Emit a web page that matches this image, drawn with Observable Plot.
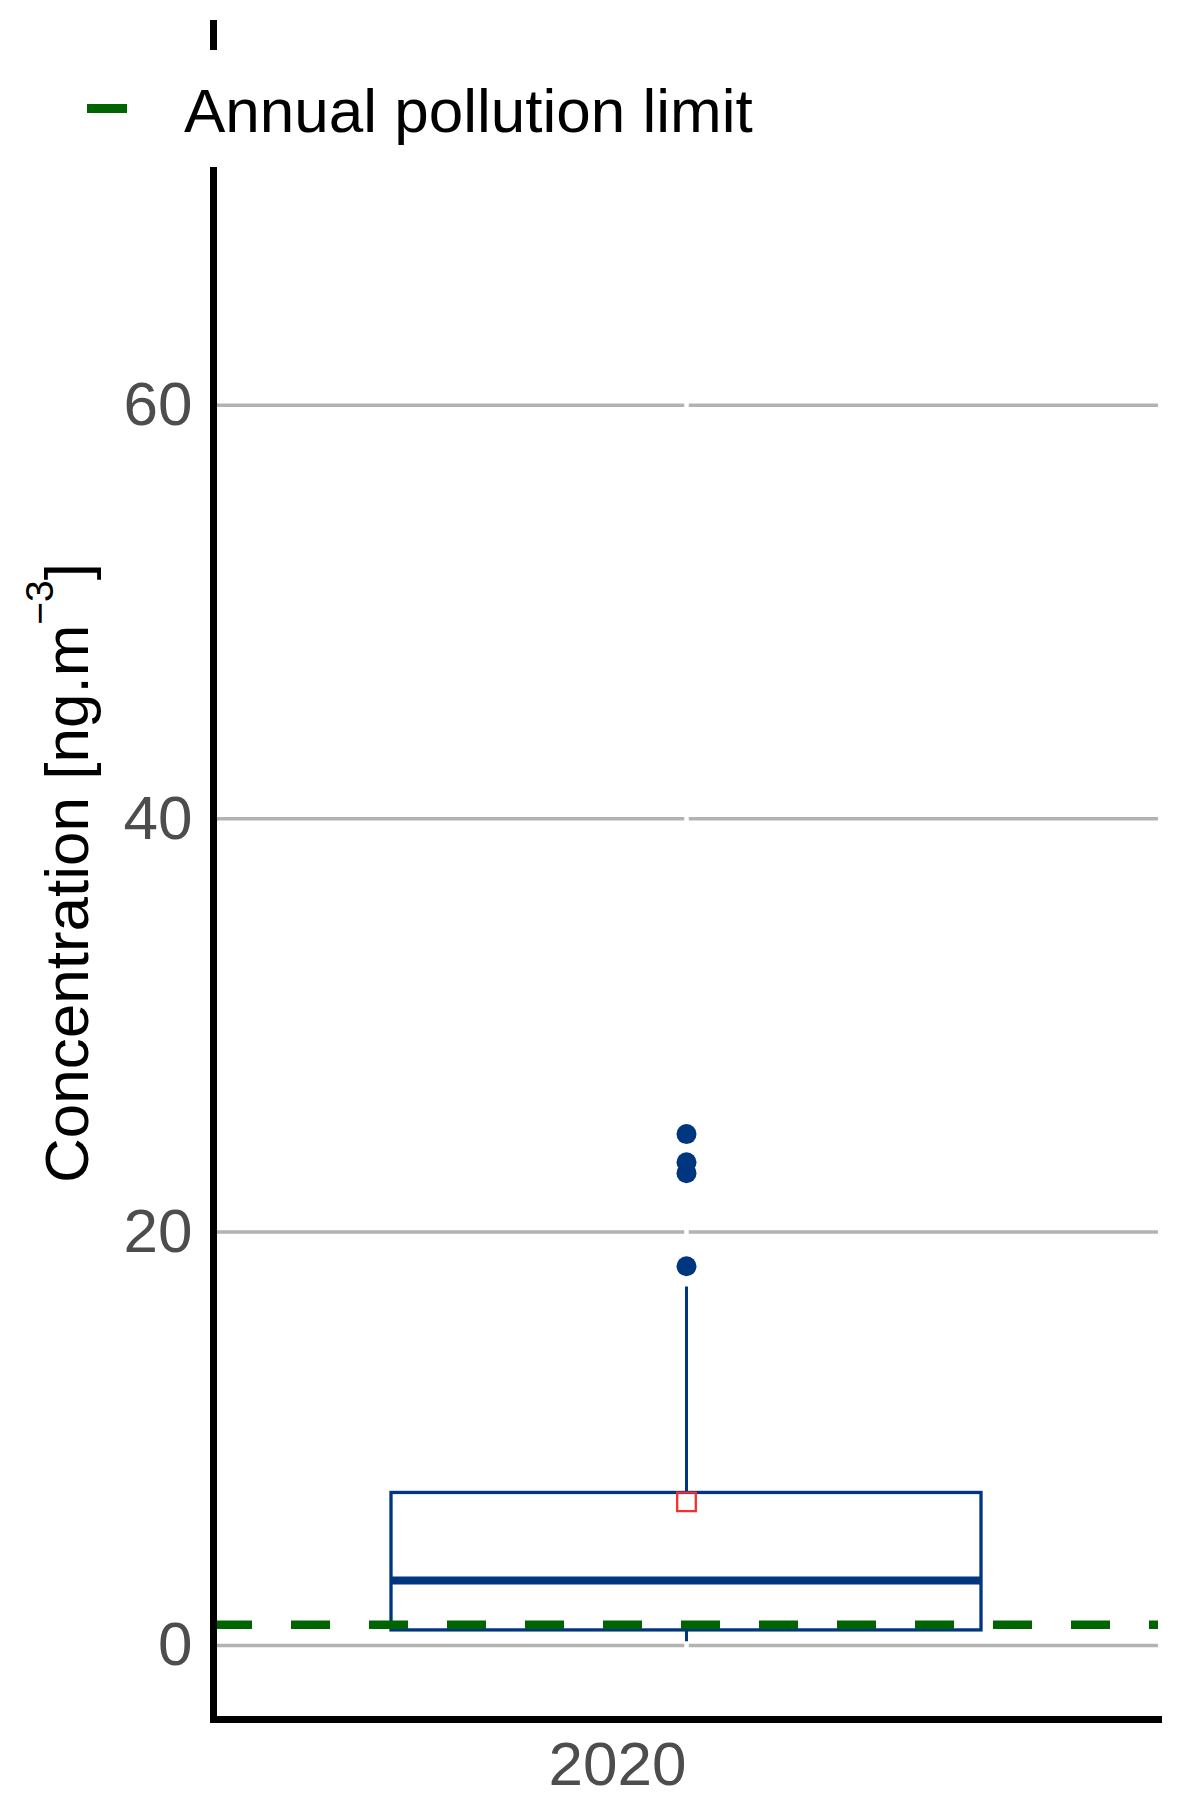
<!DOCTYPE html>
<html>
<head>
<meta charset="utf-8">
<script src="https://cdn.jsdelivr.net/npm/d3@7"></script>
<script src="https://cdn.jsdelivr.net/npm/@observablehq/plot@0.6"></script>
<style>
  html, body { margin: 0; padding: 0; background: white; }
  #wrap { position: relative; width: 1196px; height: 1814px; font-family: "Liberation Sans", Arial, sans-serif; }
  #legend { position: absolute; left: 0; top: 0; }
</style>
</head>
<body>
<div id="wrap"></div>
<script>
// ---- data ----
const years = ["2020"];
const q1 = [0.73];
const medians = [3.15];
const q3 = [7.38];
const lowerWhisker = [0.18];
const upperWhisker = [17.34];
const means = [6.95];
const outlierYears = ["2020", "2020", "2020", "2020"];
const outlierValues = [18.35, 22.85, 23.38, 24.74];
const limitValues = [1];
const yTicks = [0, 20, 40, 60];
const yDomain = [-3.58, 78.47];
const legendLabels = ["Annual pollution limit"];

const blue = "#003580";
const green = "#006400";
const red = "#f03030";
const font = "'Liberation Sans', Arial, sans-serif";

const boxData = years.map((year, i) => ({
  year, q1: q1[i], median: medians[i], q3: q3[i],
  lo: lowerWhisker[i], hi: upperWhisker[i], mean: means[i]
}));
const outliers = outlierValues.map((value, i) => ({ year: outlierYears[i], value }));

const chart = Plot.plot({
  width: 1196,
  height: 1814,
  marginLeft: 213,
  marginRight: 38,
  marginTop: 23,
  marginBottom: 95,
  style: { fontFamily: font, background: "white" },
  x: { type: "band", domain: years, paddingInner: 0, paddingOuter: 0.3, align: 0.5 },
  y: { domain: yDomain },
  marks: [
    Plot.gridY(yTicks, { stroke: "#b3b3b3", strokeOpacity: 1, strokeWidth: 3.5 }),
    Plot.gridX(years, { stroke: "white", strokeOpacity: 1, strokeWidth: 4.5 }),
    Plot.ruleX(boxData, { x: "year", y1: "lo", y2: "hi", stroke: blue, strokeWidth: 3 }),
    Plot.barY(boxData, { x: "year", y1: "q1", y2: "q3", fill: "white", stroke: blue, strokeWidth: 3.3 }),
    Plot.tickY(boxData, { x: "year", y: "median", stroke: blue, strokeWidth: 8 }),
    Plot.ruleY(limitValues, { y: d => d, stroke: green, strokeWidth: 8.5, strokeDasharray: "39,39" }),
    Plot.dot(outliers, { x: "year", y: "value", r: 10, fill: blue, stroke: null }),
    Plot.dot(boxData, { x: "year", y: "mean", symbol: "square", r: 10.5, fill: "none", stroke: red, strokeWidth: 2.3 }),
    Plot.frame({ anchor: "left", stroke: "black", strokeWidth: 7 }),
    Plot.frame({ anchor: "bottom", stroke: "black", strokeWidth: 7 }),
    Plot.axisY(yTicks, { tickSize: 0, tickPadding: 21, fontSize: 62, color: "#4d4d4d", label: null }),
    Plot.axisX({ tickSize: 0, tickPadding: 21, fontSize: 62, color: "#4d4d4d", textAnchor: "end", label: null })
  ]
});

// y-axis title with superscript
const svg = d3.select(chart);
const t = svg.append("text")
  .attr("transform", "translate(88,873) rotate(-90)")
  .attr("text-anchor", "middle")
  .attr("font-family", font)
  .attr("font-size", 62)
  .attr("fill", "black");
t.append("tspan").text("Concentration [ng.m");
t.append("tspan").attr("font-size", 39).attr("dy", -35).text("\u22123");
t.append("tspan").attr("dy", 35).text("]");

const wrap = document.getElementById("wrap");
wrap.appendChild(chart);

// legend overlay (covers the axis line like the reference)
const leg = d3.select(wrap).append("svg")
  .attr("id", "legend")
  .attr("width", 1196).attr("height", 200)
  .style("pointer-events", "none");
leg.append("rect").attr("x", 70).attr("y", 50).attr("width", 710).attr("height", 117).attr("fill", "white");
legendLabels.forEach((lab, i) => {
  leg.append("line")
    .attr("x1", 87).attr("x2", 127).attr("y1", 108.5).attr("y2", 108.5)
    .attr("stroke", green).attr("stroke-width", 9);
  leg.append("text")
    .attr("x", 184).attr("y", 132)
    .attr("font-family", font).attr("font-size", 62).attr("fill", "black")
    .text(lab);
});
</script>
</body>
</html>
